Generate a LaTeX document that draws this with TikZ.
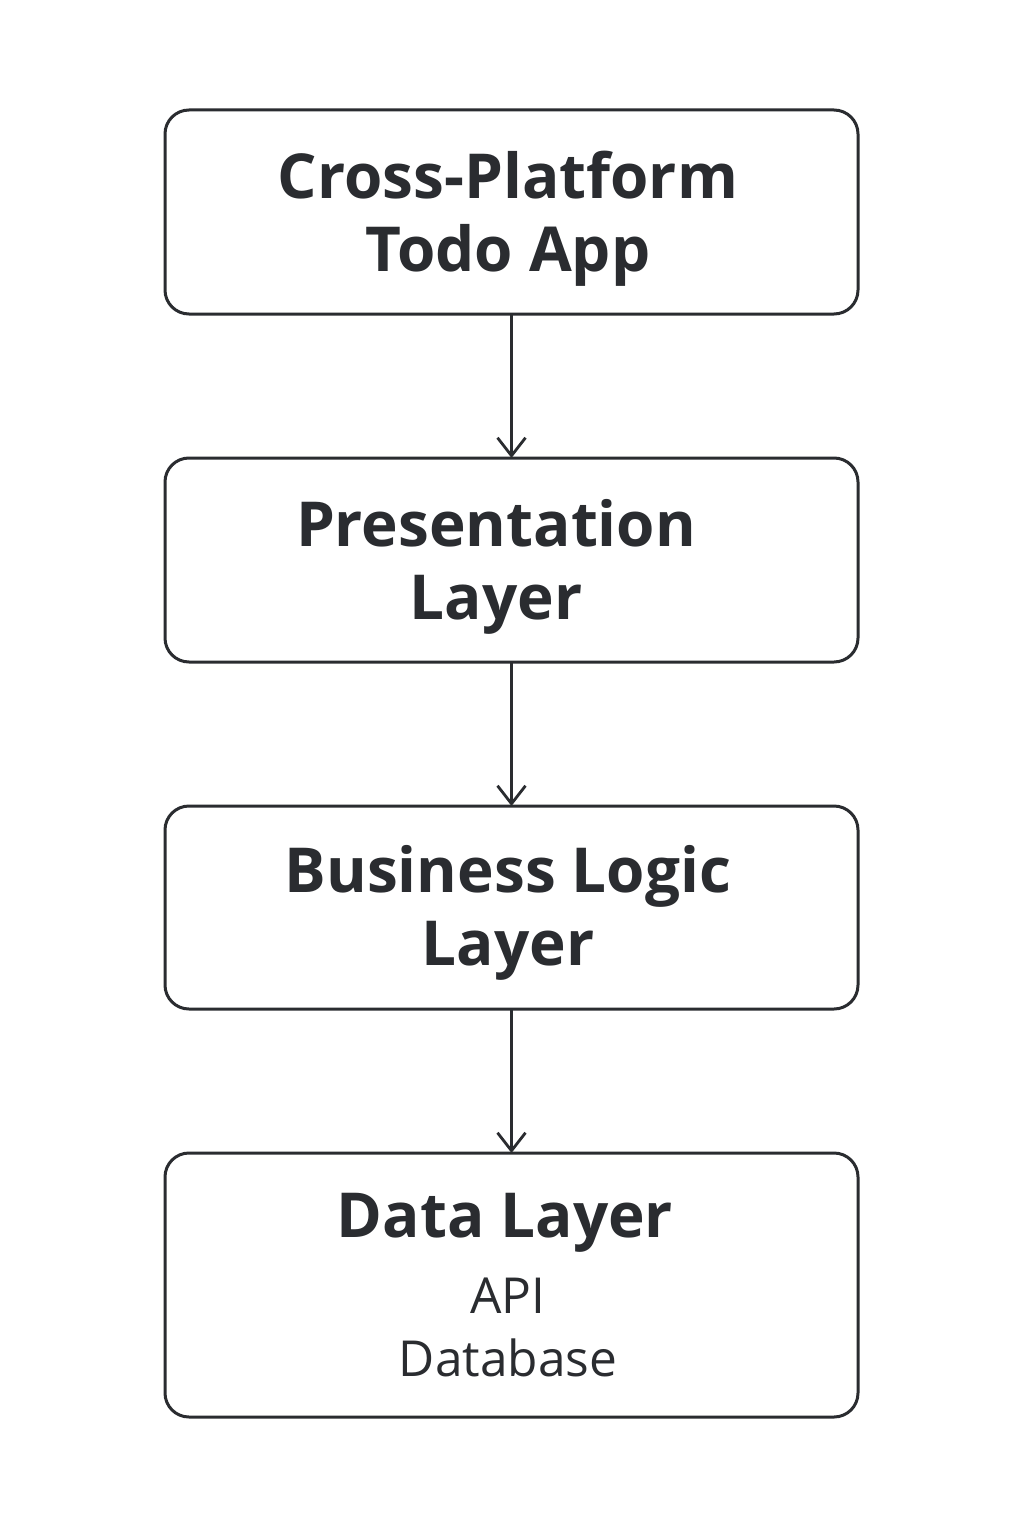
\documentclass[tikz,border=0pt]{standalone}
\usepackage{fontspec}
\setmainfont{Open Sans}
\usetikzlibrary{arrows.meta}
\definecolor{ink}{HTML}{2A2C30}
\tikzset{
  layerbox/.style={draw=ink, line width=1.5pt, rounded corners=12pt, fill=white},
  title/.style={text=ink, font=\fontsize{31}{36.5}\selectfont\bfseries, align=center},
  sub/.style={text=ink, font=\fontsize{24.8}{31.5}\selectfont, align=center},
  flow/.style={draw=ink, line width=1.4pt, -{Straight Barb[length=9pt,width=14pt,line width=1.4pt]}}
}
\begin{document}
\begin{tikzpicture}[x=0.5pt,y=-0.5pt]
\useasboundingbox (0,0) rectangle (1024,1536);
\fill[white] (0,0) rectangle (1024,1536);
\draw[layerbox] (165,110) rectangle (858,314);
\draw[layerbox] (165,458) rectangle (858,662);
\draw[layerbox] (165,806) rectangle (858,1009);
\draw[layerbox] (165,1153) rectangle (858,1417);
\coordinate (b1) at (511.5,314);
\coordinate (t2) at (511.5,458);
\coordinate (b2) at (511.5,662);
\coordinate (t3) at (511.5,806);
\coordinate (b3) at (511.5,1009);
\coordinate (t4) at (511.5,1153);
\node[title] (n1) at (508,219) {Cross-Platform\\Todo App};
\node[title] (n2) at (496,567) {Presentation\\Layer};
\node[title] (n3) at (508,913) {Business Logic\\Layer};
\node[title] (n4) at (505,1223) {Data Layer};
\node[sub] (n5) at (508,1327) {API\\Database};
\draw[flow] (b1) -- (t2);
\draw[flow] (b2) -- (t3);
\draw[flow] (b3) -- (t4);
\end{tikzpicture}
\end{document}
